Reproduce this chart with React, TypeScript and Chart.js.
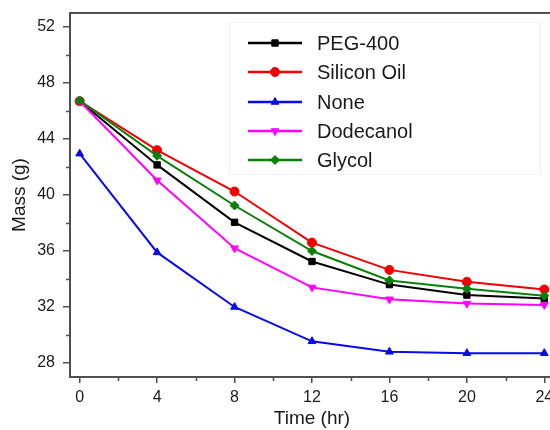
import React, { useEffect, useRef } from "react";
import { Chart, registerables } from "chart.js";
import { drawPoint } from "chart.js/helpers";

Chart.register(...registerables);

// Sampling times (hr)
const times = [0, 4, 8, 12, 16, 20, 24];

// Mass (g) for each additive
const peg400 = [46.7, 42.15, 38.05, 35.25, 33.6, 32.85, 32.6];
const siliconOil = [46.7, 43.2, 40.25, 36.6, 34.65, 33.8, 33.25];
const none = [42.95, 35.9, 32.0, 29.55, 28.8, 28.7, 28.7];
const dodecanol = [46.7, 41.05, 36.2, 33.4, 32.55, 32.25, 32.15];
const glycol = [46.75, 42.8, 39.25, 36.0, 33.9, 33.3, 32.8];

const seriesNames = ["PEG-400", "Silicon Oil", "None", "Dodecanol", "Glycol"];
const seriesValues = [peg400, siliconOil, none, dodecanol, glycol];
const seriesColors = ["#000000", "#f00000", "#0a0ae6", "#ff00ff", "#0a800a"];
const seriesMarkers = ["rect", "circle", "triangle", "triangle", "rectRot"];
const seriesRotation = [0, 0, 0, 180, 0];

const xTicks = [0, 4, 8, 12, 16, 20, 24];
const xMinorTicks = [2, 6, 10, 14, 18, 22];
const yTicks = [28, 32, 36, 40, 44, 48, 52];
const yMinorTicks = [30, 34, 38, 42, 46, 50];

const FONT = "'Liberation Sans', Arial, sans-serif";
const AXIS = "#505050";
const TEXT = "#1a1a1a";

const framePlugin = {
  id: "frame",
  afterDraw(chart: any) {
    const { ctx, chartArea } = chart;
    const xs = chart.scales.x;
    const ys = chart.scales.y;
    ctx.save();
    ctx.strokeStyle = AXIS;
    // top border
    ctx.lineWidth = 2;
    ctx.beginPath();
    ctx.moveTo(chartArea.left - 1, chartArea.top);
    ctx.lineTo(chartArea.right + 2, chartArea.top);
    ctx.stroke();
    // minor ticks
    ctx.lineWidth = 1.5;
    ctx.beginPath();
    xMinorTicks.forEach((v) => {
      const px = Math.round(xs.getPixelForValue(v)) + 0.5;
      ctx.moveTo(px, chartArea.bottom);
      ctx.lineTo(px, chartArea.bottom + 4);
    });
    yMinorTicks.forEach((v) => {
      const py = Math.round(ys.getPixelForValue(v)) + 0.5;
      ctx.moveTo(chartArea.left, py);
      ctx.lineTo(chartArea.left - 4, py);
    });
    ctx.stroke();
    ctx.restore();
  },
};

const legendPlugin = {
  id: "boxLegend",
  afterDraw(chart: any) {
    const { ctx } = chart;
    ctx.save();
    ctx.strokeStyle = "#f0f0f0";
    ctx.lineWidth = 1;
    ctx.strokeRect(229.5, 22.5, 311, 152);
    const rows = [43, 72, 102, 131, 160];
    seriesNames.forEach((name, i) => {
      const y = rows[i];
      ctx.strokeStyle = seriesColors[i];
      ctx.lineWidth = 2.5;
      ctx.beginPath();
      ctx.moveTo(248, y);
      ctx.lineTo(302, y);
      ctx.stroke();
      ctx.fillStyle = seriesColors[i];
      ctx.strokeStyle = seriesColors[i];
      ctx.lineWidth = 1;
      drawPoint(ctx, { pointStyle: seriesMarkers[i], radius: 4.5, rotation: seriesRotation[i], borderWidth: 1 } as any, 275, y);
      ctx.fillStyle = TEXT;
      ctx.font = `20px ${FONT}`;
      ctx.textBaseline = "middle";
      ctx.textAlign = "left";
      ctx.fillText(name, 317, y + 1);
    });
    ctx.restore();
  },
};

export default function App() {
  const canvasRef = useRef<HTMLCanvasElement | null>(null);

  useEffect(() => {
    if (!canvasRef.current) return;
    const chart = new Chart(canvasRef.current, {
      type: "line",
      data: {
        datasets: seriesNames.map((name, i) => ({
          label: name,
          data: times.map((t, j) => ({ x: t, y: seriesValues[i][j] })),
          borderColor: seriesColors[i],
          backgroundColor: seriesColors[i],
          borderWidth: 2,
          pointStyle: seriesMarkers[i],
          rotation: seriesRotation[i],
          pointRadius: 4.5,
          pointBorderWidth: 1,
          tension: 0,
          order: seriesNames.length - i,
        })),
      },
      options: {
        animation: false,
        responsive: true,
        maintainAspectRatio: false,
        layout: { padding: { top: 13, right: 16, left: 0, bottom: 0 } },
        plugins: {
          legend: { display: false },
          tooltip: { enabled: false },
        },
        scales: {
          x: {
            type: "linear",
            min: -0.5,
            max: 24.5,
            afterBuildTicks: (axis: any) => {
              axis.ticks = xTicks.map((v) => ({ value: v }));
            },
            afterFit: (scale: any) => {
              scale.height = 53;
              scale.paddingLeft = 0;
              scale.paddingRight = 0;
            },
            border: { display: true, color: AXIS, width: 2 },
            grid: { display: true, drawOnChartArea: false, drawTicks: true, tickLength: 6, color: AXIS, lineWidth: 1.5 },
            ticks: { color: TEXT, font: { family: FONT, size: 16 }, padding: 5, maxRotation: 0 },
            title: { display: true, text: "Time (hr)", color: TEXT, font: { family: FONT, size: 19 }, padding: { top: 0, bottom: 0 } },
          },
          y: {
            type: "linear",
            min: 27,
            max: 53,
            afterBuildTicks: (axis: any) => {
              axis.ticks = yTicks.map((v) => ({ value: v }));
            },
            afterFit: (scale: any) => {
              scale.width = 70;
              scale.paddingTop = 0;
              scale.paddingBottom = 0;
            },
            border: { display: true, color: AXIS, width: 2 },
            grid: { display: true, drawOnChartArea: false, drawTicks: true, tickLength: 7, color: AXIS, lineWidth: 1.5 },
            ticks: { color: TEXT, font: { family: FONT, size: 16 }, padding: 8 },
            title: { display: true, text: "Mass (g)", color: TEXT, font: { family: FONT, size: 19 }, padding: { top: 8, bottom: 0 } },
          },
        },
      },
      plugins: [framePlugin, legendPlugin],
    });
    return () => chart.destroy();
  }, []);

  return (
    <div style={{ position: "fixed", left: 0, top: 0, width: 550, height: 430, overflow: "hidden", background: "#fff" }}>
      <div style={{ position: "relative", width: 570, height: 430 }}>
        <canvas ref={canvasRef} />
      </div>
    </div>
  );
}
